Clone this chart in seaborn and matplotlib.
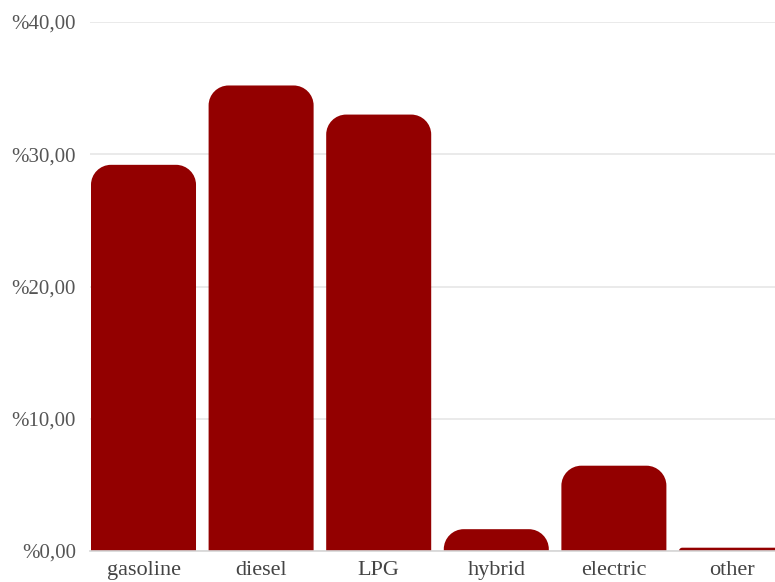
import matplotlib
matplotlib.use("Agg")
import matplotlib.pyplot as plt
from matplotlib.path import Path
from matplotlib.patches import PathPatch
import seaborn as sns

# Share of vehicles by fuel type (%)
fuel_types = ["gasoline", "diesel", "LPG", "hybrid", "electric", "other"]
shares = [29.2, 35.2, 33.0, 1.65, 6.45, 0.25]
y_ticks = [0, 10, 20, 30, 40]
y_tick_labels = ["%0,00", "%10,00", "%20,00", "%30,00", "%40,00"]

BAR_COLOR = "#930000"
GRID_COLOR = "#e6e6e6"
SERIF = ["Liberation Serif", "DejaVu Serif"]

sns.set_theme(style="white")
plt.rcParams["font.family"] = SERIF

fig = plt.figure(figsize=(7.75, 5.82), dpi=100)
ax = fig.add_axes([90 / 775, 31 / 582, 685 / 775, 529 / 582])

sns.barplot(x=fuel_types, y=shares, color=BAR_COLOR, saturation=1,
            width=0.893, ax=ax)

ax.set_xlim(-0.455, 5.37)
ax.set_ylim(0, 40)


def rounded_top_bar(x0, width, height, rx, ry):
    """Bar outline with rounded top corners, in data coordinates."""
    k = 0.5523
    x1 = x0 + width
    verts = [
        (x0, 0), (x0, height - ry),
        (x0, height - ry + k * ry), (x0 + rx - k * rx, height), (x0 + rx, height),
        (x1 - rx, height),
        (x1 - rx + k * rx, height), (x1, height - ry + k * ry), (x1, height - ry),
        (x1, 0), (x0, 0),
    ]
    codes = [Path.MOVETO, Path.LINETO,
             Path.CURVE4, Path.CURVE4, Path.CURVE4,
             Path.LINETO,
             Path.CURVE4, Path.CURVE4, Path.CURVE4,
             Path.LINETO, Path.CLOSEPOLY]
    return Path(verts, codes)


# Replace the square bars with rounded-top versions
fig.canvas.draw()
(px0, py0) = ax.transData.transform((0, 0))
(px1, py1) = ax.transData.transform((1, 1))
px_per_x = px1 - px0
px_per_y = py1 - py0
radius_px = 20

for bar in list(ax.patches):
    x0, w, h = bar.get_x(), bar.get_width(), bar.get_height()
    r = min(radius_px, h * px_per_y, w * px_per_x / 2)
    path = rounded_top_bar(x0, w, h, r / px_per_x, r / px_per_y)
    bar.remove()
    ax.add_patch(PathPatch(path, facecolor=BAR_COLOR, edgecolor="none",
                           zorder=2))

ax.set_yticks(y_ticks)
ax.set_yticklabels(y_tick_labels)
ax.yaxis.grid(True, color=GRID_COLOR, linewidth=1.2)
ax.set_axisbelow(True)

for side in ("top", "right", "left"):
    ax.spines[side].set_visible(False)
ax.spines["bottom"].set_color("#d6d6d6")
ax.spines["bottom"].set_linewidth(1.2)

ax.tick_params(axis="y", length=0, pad=10, labelsize=15, labelcolor="#555555")
ax.tick_params(axis="x", length=0, pad=7, labelsize=16, labelcolor="#444444")
ax.set_xlabel("")
ax.set_ylabel("")

fig.savefig("out.png", dpi=100)
